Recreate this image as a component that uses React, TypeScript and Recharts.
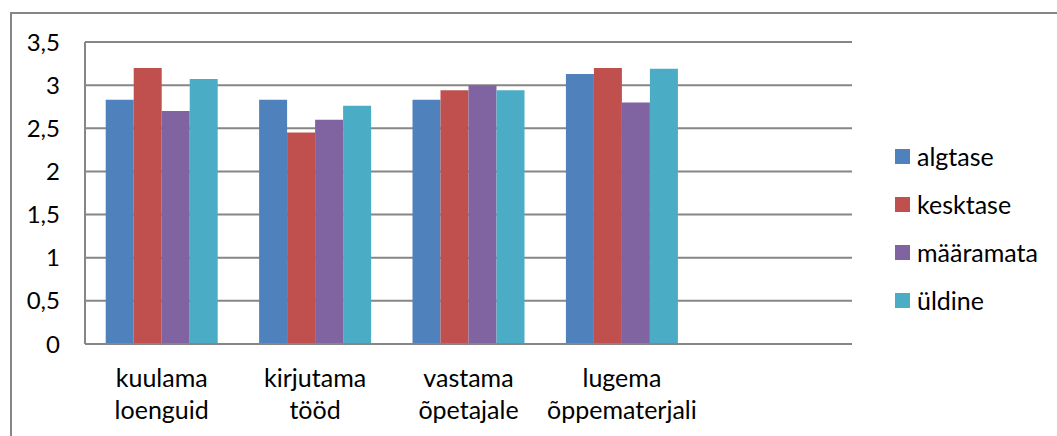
import React from 'react';
import { BarChart, Bar, XAxis, YAxis, CartesianGrid } from 'recharts';

// categories (last slot is empty in the original chart)
const categories = ['kuulama loenguid', 'kirjutama tööd', 'vastama õpetajale', 'lugema õppematerjali', ''];

const algtase = [2.83, 2.83, 2.83, 3.13, null];
const kesktase = [3.2, 2.45, 2.94, 3.2, null];
const maaramata = [2.7, 2.6, 3.0, 2.8, null];
const uldine = [3.07, 2.76, 2.94, 3.19, null];

const yTicks = [0, 0.5, 1, 1.5, 2, 2.5, 3, 3.5];

const series = [
  { key: 'algtase', label: 'algtase', color: '#4F81BD' },
  { key: 'kesktase', label: 'kesktase', color: '#C0504D' },
  { key: 'maaramata', label: 'määramata', color: '#8064A2' },
  { key: 'uldine', label: 'üldine', color: '#4BACC6' },
];

const data = categories.map((name, i) => ({
  name,
  algtase: algtase[i],
  kesktase: kesktase[i],
  maaramata: maaramata[i],
  uldine: uldine[i],
}));

const FONT = 'Lato, "Open Sans", sans-serif';
const GRID = '#868686';

const CategoryTick = (props: any) => {
  const { x, y, payload } = props;
  if (!payload.value) return null;
  const lines = String(payload.value).split(' ');
  return (
    <text x={x} textAnchor="middle" fontFamily={FONT} fontSize={25} fill="#000">
      {lines.map((l, i) => (
        <tspan key={i} x={x} y={y + 43 + i * 32}>{l}</tspan>
      ))}
    </text>
  );
};

export default function App() {
  return (
    <div style={{ position: 'fixed', left: 0, top: 0, width: 1057, height: 436, background: '#fff', overflow: 'hidden' }}>
      {/* outer frame, only top and left edges are visible */}
      <div style={{
        position: 'absolute', left: 10, top: 12, width: 1047, height: 424,
        borderTop: `2px solid ${GRID}`, borderLeft: `2px solid ${GRID}`, boxSizing: 'border-box',
      }} />
      <div style={{ position: 'absolute', left: 0, top: 0 }}>
        <BarChart
          width={1057}
          height={436}
          data={data}
          margin={{ top: 42, right: 205, left: 0, bottom: 32 }}
          barCategoryGap="13.5%"
          barGap={0}
        >
          <CartesianGrid vertical={false} stroke={GRID} strokeWidth={2} />
          <XAxis
            dataKey="name"
            height={60}
            tickLine={false}
            tickSize={0}
            tickMargin={0}
            axisLine={{ stroke: GRID, strokeWidth: 2 }}
            tick={<CategoryTick />}
            interval={0}
          />
          <YAxis
            width={85}
            domain={[0, 3.5]}
            ticks={yTicks}
            tickLine={false}
            tickSize={0}
            tickMargin={25}
            axisLine={{ stroke: GRID, strokeWidth: 2 }}
            tickFormatter={(v: number) => String(v).replace('.', ',')}
            tick={{ fill: '#000', fontFamily: FONT, fontSize: 24 }}
          />
          {series.map(s => (
            <Bar key={s.key} dataKey={s.key} name={s.label} fill={s.color} isAnimationActive={false} />
          ))}
        </BarChart>
      </div>
      {/* legend */}
      <div style={{ position: 'absolute', left: 895, top: 132 }}>
        {series.map(s => (
          <div key={s.key} style={{ display: 'flex', alignItems: 'center', height: 48, fontFamily: FONT, fontSize: 25, color: '#000' }}>
            <span style={{ width: 15, height: 15, background: s.color, marginRight: 7, display: 'inline-block' }} />
            <span>{s.label}</span>
          </div>
        ))}
      </div>
    </div>
  );
}
